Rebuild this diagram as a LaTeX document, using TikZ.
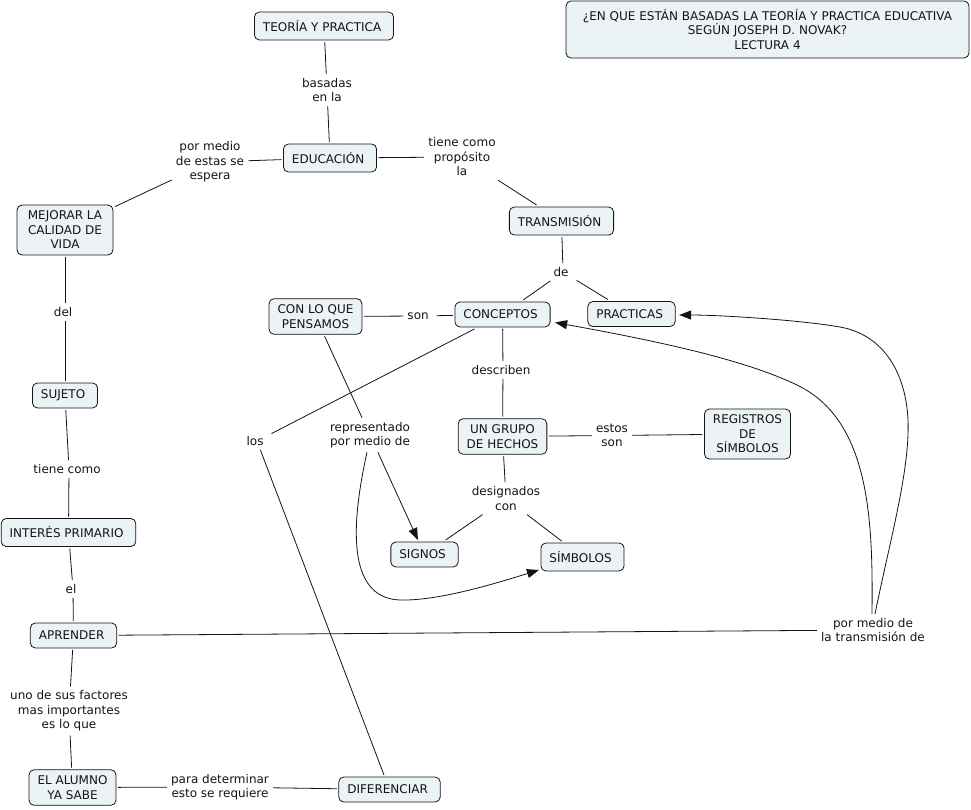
\documentclass[tikz,border=0pt]{standalone}
\usepackage{fontspec}
\setmainfont{DejaVu Sans}
\usetikzlibrary{arrows.meta}
\definecolor{conceptfill}{RGB}{236,243,246}
\definecolor{ink}{RGB}{20,20,20}

\begin{document}
\begin{tikzpicture}[x=1pt, y=-1pt, font=\fontsize{12}{14.5}\selectfont,
            concept/.style={draw=ink, line width=0.8pt, fill=conceptfill, rounded corners=5pt, align=center, text=ink,
                inner xsep=8.5pt, inner ysep=6pt, minimum height=25pt, outer sep=2pt},
            tall/.style={minimum height=28pt},
            linking/.style={align=center, inner sep=4pt, text=ink},
            link/.style={draw=ink, line width=0.8pt},
            arrowlink/.style={link, -{Triangle[length=12pt,width=9pt]}}]
            \useasboundingbox (0,0) rectangle (971,809);

            \node[concept, minimum width=403pt, minimum height=57pt] (title) at (767.5,29.5) { ¿EN QUE ESTÁN BASADAS LA TEORÍA Y PRACTICA EDUCATIVA\\ SEGÚN JOSEPH D. NOVAK?\\ LECTURA 4 };

            \node[concept, tall] (theory) at (324,26) { TEORÍA Y PRACTICA };
            \node[concept, tall] (education) at (330,158) { EDUCACIÓN };
            \node[concept, minimum width=96pt] (quality) at (65,230) { MEJORAR LA\\ CALIDAD DE\\ VIDA };
            \node[concept, tall] (transmission) at (561.5,221) { TRANSMISIÓN };
            \node[concept] (thinking) at (315.5,316.5) { CON LO QUE\\ PENSAMOS };
            \node[concept] (concepts) at (502.5,314.5) { CONCEPTOS };
            \node[concept] (practices) at (631.5,314) { PRACTICAS };
            \node[concept] (subject) at (65,395.5) { SUJETO };
            \node[concept] (facts) at (502.5,436.5) { UN GRUPO\\ DE HECHOS };
            \node[concept] (records) at (747.5,434) { REGISTROS\\ DE\\ SÍMBOLOS };
            \node[concept, tall] (interest) at (68.5,532.5) { INTERÉS PRIMARIO };
            \node[concept] (signs) at (424.5,554.5) { SIGNOS };
            \node[concept, tall] (symbols) at (582.5,557) { SÍMBOLOS };
            \node[concept] (learn) at (73.5,635.5) { APRENDER };
            \node[concept] (knows) at (72.5,787.5) { EL ALUMNO\\ YA SABE };
            \node[concept] (differ) at (389.5,789.5) { DIFERENCIAR };

            \node[linking] (basedon) at (327,90) { basadas\\ en la };
            \node[linking] (hopes) at (210,162) { por medio\\ de estas se\\ espera };
            \node[linking] (purpose) at (462,157) { tiene como\\ propósito\\ la };
            \node[linking] (of) at (563,272) { de };
            \node[linking] (are) at (420,316) { son };
            \node[linking] (describe) at (503,370) { describen };
            \node[linking] (the) at (257,441) { los };
            \node[linking] (represented) at (370,435) { representado\\ por medio de };
            \node[linking] (these) at (612,435.5) { estos\\ son };
            \node[linking] (named) at (506,498.5) { designados\\ con };
            \node[linking] (ofsubject) at (65,312) { del };
            \node[linking] (has) at (69,469) { tiene como };
            \node[linking] (theact) at (73,589) { el };
            \node[linking] (factors) at (69,711) { uno de sus factores\\ mas importantes\\ es lo que };
            \node[linking] (determine) at (220,787) { para determinar\\ esto se requiere };
            \node[linking] (via) at (873,630) { por medio de\\ la transmisión de };

            \draw[link] (theory) -- (basedon);
            \draw[link] (basedon) -- (education);
            \draw[link] (education) -- (hopes);
            \draw[link] (hopes) -- (quality);
            \draw[link] (education) -- (purpose);
            \draw[link] (purpose) -- (transmission);
            \draw[link] (transmission) -- (of);
            \draw[link] (of) -- (concepts);
            \draw[link] (of) -- (practices);
            \draw[link] (concepts) -- (are);
            \draw[link] (are) -- (thinking);
            \draw[link] (concepts) -- (describe);
            \draw[link] (describe) -- (facts);
            \draw[link] (concepts) -- (the);
            \draw[link] (the) -- (differ);
            \draw[link] (thinking) -- (represented);
            \draw[arrowlink] (represented) -- (signs);
            \draw[arrowlink] ([xshift=-3pt]represented.south) .. controls (352,520) and (345,598) .. (400,600) .. controls (440,601) and (500,582) .. ([yshift=3pt]symbols.south west);
            \draw[link] (facts) -- (these);
            \draw[link] (these) -- (records);
            \draw[link] (facts) -- (named);
            \draw[link] (named) -- (signs);
            \draw[link] (named) -- (symbols);
            \draw[link] (quality) -- (ofsubject);
            \draw[link] (ofsubject) -- (subject);
            \draw[link] (subject) -- (has);
            \draw[link] (has) -- (interest);
            \draw[link] (interest) -- (theact);
            \draw[link] (theact) -- (learn);
            \draw[link] (learn) -- (factors);
            \draw[link] (factors) -- (knows);
            \draw[link] (knows) -- (determine);
            \draw[link] (determine) -- (differ);
            \draw[link] (learn) -- (via);
            \draw[arrowlink] ([xshift=-1pt]via.north) .. controls (873,520) and (870,420) .. (797,385) .. controls (739,357) and (640,338) .. ([shift={(3pt,-8pt)}]concepts.east);
            \draw[arrowlink] ([xshift=2pt]via.north) .. controls (890,540) and (910,470) .. (908,420) .. controls (906,375) and (885,335) .. (840,327) .. controls (800,320) and (720,315) .. ([shift={(2pt,-1pt)}]practices.east);
        \end{tikzpicture}
\end{document}
